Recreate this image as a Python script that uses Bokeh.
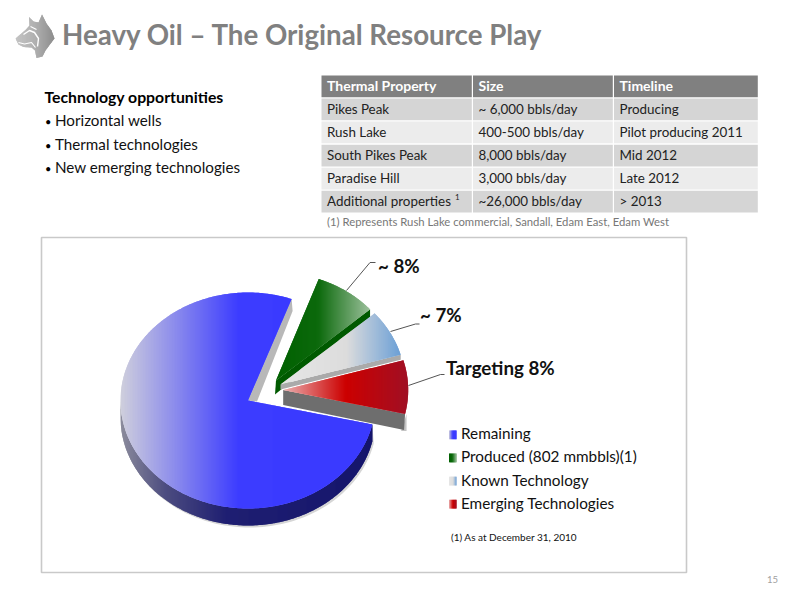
from bokeh.core.properties import value
from bokeh.embed import file_html
from bokeh.models import Range1d
from bokeh.plotting import figure
from bokeh.resources import INLINE
import numpy as np

# data
title = "Heavy Oil \u2013 The Original Resource Play"
intro_head = "Technology opportunities"
intro_items = ["Horizontal wells", "Thermal technologies", "New emerging technologies"]

table_head = ["Thermal Property", "Size", "Timeline"]
properties = ["Pikes Peak", "Rush Lake", "South Pikes Peak", "Paradise Hill", "Additional properties"]
sizes = ["~ 6,000 bbls/day", "400-500 bbls/day", "8,000 bbls/day", "3,000 bbls/day", "~26,000 bbls/day"]
timelines = ["Producing", "Pilot producing 2011", "Mid 2012", "Late 2012", "> 2013"]
table_note = "(1) Represents Rush Lake commercial, Sandall, Edam East, Edam West"

# clockwise from the top of the pie
slice_names = ["Produced (802 mmbbls)(1)", "Known Technology", "Emerging Technologies", "Remaining"]
slice_shares = [8, 7, 8, 77]
slice_labels = ["~ 8%", "~ 7%", "Targeting 8%"]
legend_order = ["Remaining", "Produced (802 mmbbls)(1)", "Known Technology", "Emerging Technologies"]
chart_note = "(1) As at  December 31, 2010"
page_number = "15"

FONT = value("Lato")
RY = 108.0
START = 70.0

gradients = {
    "Remaining": [(0, "#cfcfdc"), (0.47, "#3c3cff"), (1, "#3a3aff")],
    "Produced (802 mmbbls)(1)": [(0, "#006000"), (0.45, "#0c6a0c"), (1, "#9cc09c")],
    "Known Technology": [(0, "#e6e6e6"), (0.55, "#dcdcdc"), (1, "#6b9fd6")],
    "Emerging Technologies": [(0, "#eab0b0"), (0.5, "#cc0000"), (1, "#a01024")],
}
centers = {
    "Remaining": (247.5, 400.0),
    "Produced (802 mmbbls)(1)": (275.5, 380.0),
    "Known Technology": (280.0, 384.0),
    "Emerging Technologies": (282.7, 389.5),
}
radii = {
    "Remaining": 127.5,
    "Produced (802 mmbbls)(1)": 125.0,
    "Known Technology": 125.0,
    "Emerging Technologies": 125.0,
}


def lerp_color(stops, f):
    for (f0, c0), (f1, c1) in zip(stops, stops[1:]):
        if f <= f1:
            t = (f - f0) / (f1 - f0)
            a = [int(c0[i:i + 2], 16) for i in (1, 3, 5)]
            b = [int(c1[i:i + 2], 16) for i in (1, 3, 5)]
            return "#%02x%02x%02x" % tuple(round(u + (v - u) * t) for u, v in zip(a, b))
    return stops[-1][1]


def clip_side(pts, edge, keep_right):
    out = []
    for i in range(len(pts)):
        a, b = pts[i - 1], pts[i]
        ina = a[0] >= edge if keep_right else a[0] <= edge
        inb = b[0] >= edge if keep_right else b[0] <= edge
        if ina != inb:
            t = (edge - a[0]) / (b[0] - a[0])
            out.append((edge, a[1] + (b[1] - a[1]) * t))
        if inb:
            out.append(b)
    return out


def gradient_patch(pts, stops):
    # a left to right gradient is drawn as narrow upright strips of the shape,
    # each one runs a bit under the next so no white shows at the seams
    x0 = min(q[0] for q in pts)
    x1 = max(q[0] for q in pts)
    xs, ys, colors = [], [], []
    for left in range(int(np.floor(x0)), int(np.ceil(x1))):
        part = clip_side(clip_side(pts, left, True), left + 2, False)
        if len(part) > 2:
            xs.append([q[0] for q in part])
            ys.append([q[1] for q in part])
            f = min(max((left + 0.5 - x0) / (x1 - x0), 0), 1)
            colors.append(lerp_color(stops, f))
    p.patches(xs, ys, fill_color=colors, fill_alpha=1.0, line_color=None)


def flat_patch(pts, color, alpha=1.0):
    p.patch([q[0] for q in pts], [q[1] for q in pts], fill_color=color, line_color=None, fill_alpha=alpha)


def rim(name, t0, t1, n=90):
    t = np.radians(np.linspace(t0, t1, n))
    cx, cy = centers[name]
    return list(zip(cx + radii[name] * np.cos(t), cy - RY * np.sin(t)))


def drop(pts, d, dx=0.0):
    return [(q[0] + dx, q[1] + d) for q in pts]


def label(x, y, s, size, color="#111111", style="normal", anchor="left"):
    # y is the wanted baseline
    p.text([x - 0.5], [y - 0.37 * size - 1], text=[s], text_font=FONT, text_font_size=f"{size}px", text_color=color,
           text_font_style=style, text_align=anchor, text_baseline="alphabetic")


p = figure(width=792, height=592, x_range=Range1d(0, 792), y_range=Range1d(592, 0),
           output_backend="svg", toolbar_location=None, min_border=0)
p.axis.visible = False
p.grid.visible = False
p.outline_line_color = None

# logo
head = [(15, 38), (25, 29.5), (29, 25), (28.5, 16.5), (33, 21), (38, 22), (41.5, 14), (46, 23),
        (51, 30), (54, 38), (49, 44.5), (45, 50), (42, 56), (36, 57.5), (34.5, 50), (31, 47),
        (23, 46.5), (18, 44)]
gradient_patch(head, [(0, "#c4c4c4"), (0.5, "#b0b0b0"), (1, "#8c8c8c")])
p.line([23, 29, 34, 38, 37], [34, 30, 32, 38, 46], line_color="white", line_width=1.4)
p.line([18, 24, 31, 35], [42, 43.5, 42, 47], line_color="white", line_width=1.2)
p.line([30, 36], [26, 29], line_color="white", line_width=1.2)

label(62, 45, title, 27.7, "#808080", "bold")

# left text
label(44.5, 103, intro_head, 15.8, "#000000", "bold")
for i, item in enumerate(intro_items):
    y = 126.5 + i * 23.2
    label(45, y, "\u2022", 11, "#000000")
    label(55, y, item, 15.2, "#111111")

# table
col_x = [321.0, 472.5, 613.5, 758.5]
row_top, row_pitch, row_h = 75.0, 23.06, 21.7
p.quad(left=col_x[:-1], right=[c - 1.2 for c in col_x[1:]], top=[row_top] * 3,
       bottom=[row_top + row_h] * 3, fill_color="#808080", line_color=None)
for j, head_text in enumerate(table_head):
    label(col_x[j] + 6, row_top + 16, head_text, 14, "#ffffff", "bold")
for i, cells in enumerate(zip(properties, sizes, timelines)):
    top = row_top + (i + 1) * row_pitch
    fill = "#d5d5d5" if i % 2 == 0 else "#ececec"
    p.quad(left=col_x[:-1], right=[c - 1.2 for c in col_x[1:]], top=[top] * 3,
           bottom=[top + row_h] * 3, fill_color=fill, line_color=None)
    for j, cell in enumerate(cells):
        label(col_x[j] + 6, top + 16, cell, 13.4, "#222222")
label(455, row_top + 5 * row_pitch + 10, "1", 8, "#222222")
label(327, 226, table_note, 11.3, "#777777")

# chart frame
p.quad(left=[41], right=[686], top=[237], bottom=[572], fill_color="white", line_color="#c9c9c9", line_width=1.6)

# pie, every slice angle comes from the shares
angles = {}
at = START
for name, share in zip(slice_names, slice_shares):
    angles[name] = (at, at - share * 3.6)
    at -= share * 3.6

rest, prod, known, emerging = "Remaining", slice_names[0], slice_names[1], slice_names[2]

# remaining
c = centers[rest]
a0, a1 = angles[rest]
edge_arc = rim(rest, -180, a0)
shadow = edge_arc + drop(edge_arc, 19, 1.5)[::-1]
flat_patch(shadow, "#8a8a8a", 0.35)
gradient_patch(edge_arc + drop(edge_arc, 17)[::-1],
               [(0, "#8c8c9c"), (0.18, "#4c4c80"), (0.42, "#1f1f72"), (1, "#15156c")])
tip = rim(rest, a1, a1, 1)[0]
flat_patch([c, tip, (tip[0] + 1, tip[1] + 12), (c[0] + 9, c[1] + 1)], "#b8b8b8")
gradient_patch([c] + rim(rest, a1, a0, 200), gradients[rest])

# produced
c = centers[prod]
a0, a1 = angles[prod]
edge_pt = rim(prod, a1, a1, 1)[0]
flat_patch([c, edge_pt, (edge_pt[0], edge_pt[1] + 8), (c[0] - 1, c[1] + 14)], "#005a00")
gradient_patch([c] + rim(prod, a1, a0, 60), gradients[prod])

# known
c = centers[known]
a0, a1 = angles[known]
edge_pt = rim(known, a1, a1, 1)[0]
flat_patch([c, edge_pt, (edge_pt[0], edge_pt[1] + 5), (c[0], c[1] + 5)], "#aaaaaa")
gradient_patch([c] + rim(known, a1, a0, 60), gradients[known])

# emerging
c = centers[emerging]
a0, a1 = angles[emerging]
edge_pt = rim(emerging, a1, a1, 1)[0]
flat_patch([(edge_pt[0] + 1.5, edge_pt[1]), (edge_pt[0] + 1.5, edge_pt[1] + 17), (edge_pt[0] - 4, edge_pt[1] + 17)], "#8a8a8a", 0.5)
flat_patch([c, edge_pt, (edge_pt[0] - 1, edge_pt[1] + 16), (c[0], c[1] + 15)], "#6e6e6e")
gradient_patch([c] + rim(emerging, a1, a0, 60), gradients[emerging])

# leader lines and labels
p.line([346, 369.5, 375], [290, 262, 262], line_color="#555555", line_width=1)
p.line([390, 415, 419], [331, 323.5, 323.5], line_color="#555555", line_width=1)
p.line([408, 440, 444], [385, 374, 374], line_color="#555555", line_width=1)
label(378, 273, slice_labels[0], 18.8, "#111111", "bold")
label(420, 322, slice_labels[1], 18.8, "#111111", "bold")
label(446, 375, slice_labels[2], 18.8, "#111111", "bold")

# legend
for i, name in enumerate(legend_order):
    top = 430 + i * 23.1
    stops = gradients[name]
    gradient_patch([(448.5, top), (456, top), (456, top + 8.7), (448.5, top + 8.7)], stops)
    label(461, top + 9.5, name, 15.3, "#111111")
label(451, 541, chart_note, 10, "#111111")

label(778, 584, page_number, 9.5, "#a0a0a0", anchor="right")

open("out.html", "w").write(file_html(p, INLINE))
